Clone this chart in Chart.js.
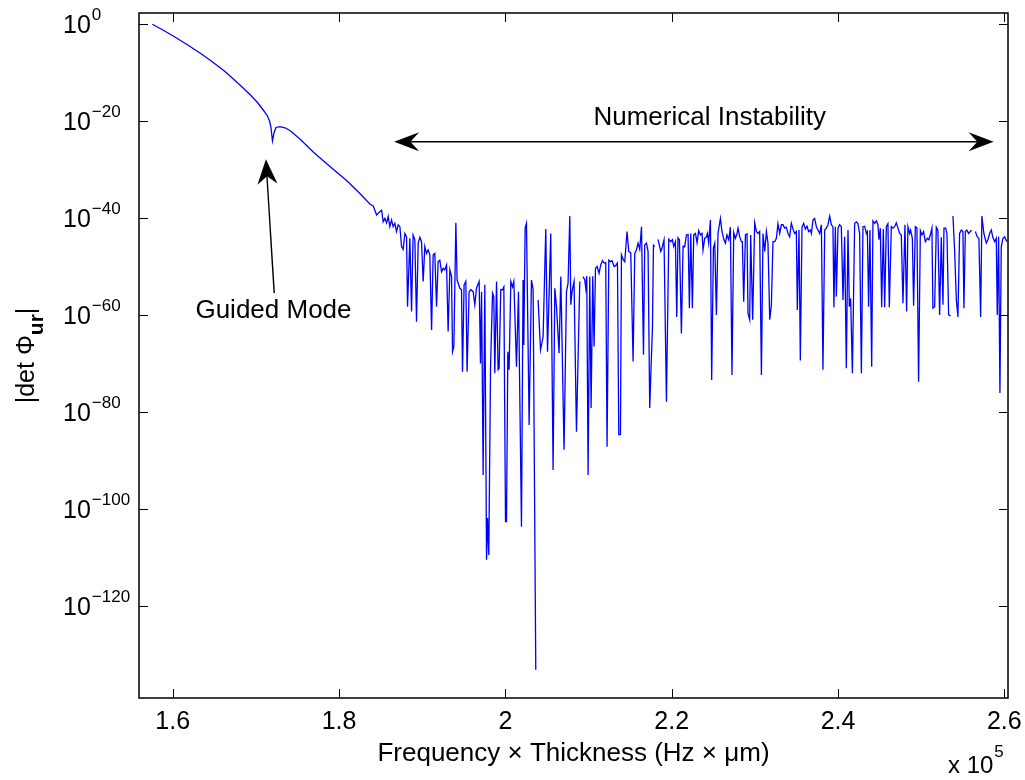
<!DOCTYPE html>
<html><head><meta charset="utf-8">
<script src="https://cdn.jsdelivr.net/npm/chart.js@4/dist/chart.umd.min.js"></script>
<style>html,body{margin:0;padding:0;background:#fff;}canvas{display:block}</style>
</head><body>
<canvas id="c" width="1025" height="780"></canvas>
<script>
// Frequency x Thickness, in units of 1e5 Hz·µm
const freqE5 = [
1.5755,1.5871,1.6007,1.6172,1.6328,1.6472,1.6629,1.6809,1.6929,1.7025,
1.7097,1.7139,1.7163,1.7181,1.7200,1.7218,1.7242,1.7290,1.7350,1.7410,
1.7530,1.7690,1.7891,1.8091,1.8251,1.8371,
1.8411,1.8452,1.8491,1.8512,1.8531,1.8551,1.8572,1.8591,1.8611,1.8632,
1.8651,1.8671,1.8692,1.8711,1.8732,1.8752,1.8771,1.8792,1.8812,1.8824,
1.8852,1.8872,1.8891,1.8912,1.8932,1.8952,1.8972,1.8992,1.9012,1.9032,
1.9052,1.9072,1.9092,1.9113,1.9132,1.9152,1.9173,1.9192,1.9212,1.9233,
1.9252,1.9272,1.9293,1.9312,1.9333,1.9353,1.9365,1.9381,1.9405,1.9420,
1.9453,1.9473,1.9485,1.9504,1.9525,1.9540,1.9564,1.9585,1.9613,1.9633,
1.9653,1.9685,1.9701,1.9714,1.9733,1.9753,1.9774,1.9786,1.9801,1.9822,
1.9846,1.9861,1.9873,1.9894,1.9913,1.9925,1.9945,1.9966,1.9982,2.0002,
2.0014,2.0030,2.0045,2.0066,2.0086,2.0102,2.0134,2.0158,2.0194,2.0213,
2.0222,2.0238,2.0254,2.0286,2.0314,2.0334,2.0366,2.0380,2.0394,2.0423,
2.0454,2.0486,2.0507,2.0546,2.0574,2.0595,2.0615,2.0646,2.0667,2.0706,
2.0735,2.0754,2.0775,2.0787,2.0802,2.0826,2.0855,2.0895,2.0915,2.0935,
2.0955,2.0967,2.0979,2.0995,2.1015,2.1031,2.1051,2.1067,2.1084,2.1103,
2.1127,2.1147,2.1168,2.1187,2.1207,2.1223,2.1244,2.1264,2.1283,2.1307,
2.1324,2.1348,2.1364,2.1384,2.1396,2.1420,2.1436,2.1463,2.1484,2.1508,
2.1536,2.1556,2.1576,2.1596,2.1616,2.1637,2.1661,2.1676,2.1697,2.1716,
2.1736,2.1769,2.1781,2.1796,2.1816,2.1836,2.1869,2.1884,2.1908,2.1937,
2.1965,2.1989,2.2009,2.2025,2.2045,2.2061,2.2076,2.2093,2.2117,2.2137,
2.2157,2.2177,2.2197,2.2213,2.2229,2.2249,2.2265,2.2286,2.2305,2.2325,
2.2346,2.2365,2.2377,2.2397,2.2418,2.2430,2.2445,2.2466,2.2481,2.2502,
2.2518,2.2538,2.2557,2.2586,2.2605,2.2629,2.2646,2.2665,2.2686,2.2706,
2.2725,2.2746,2.2766,2.2786,2.2798,2.2818,2.2838,2.2850,2.2866,2.2887,
2.2906,2.2918,2.2938,2.2950,2.2974,2.2998,2.3019,2.3038,2.3058,2.3079,
2.3098,2.3119,2.3139,2.3158,2.3179,2.3199,2.3218,2.3239,2.3259,2.3278,
2.3299,2.3319,2.3338,2.3359,2.3379,2.3399,2.3419,2.3439,2.3459,2.3479,
2.3499,2.3511,2.3531,2.3547,2.3567,2.3587,2.3608,2.3627,2.3647,2.3668,
2.3680,2.3699,2.3719,2.3740,2.3759,2.3780,2.3800,2.3819,2.3840,2.3860,
2.3879,2.3900,2.3920,2.3939,2.3951,2.3968,2.3980,2.4000,2.4020,2.4040,
2.4060,2.4080,2.4100,2.4120,2.4136,2.4152,2.4173,2.4200,2.4221,2.4240,
2.4260,2.4281,2.4300,2.4320,2.4341,2.4353,2.4368,2.4384,2.4405,2.4420,
2.4441,2.4461,2.4480,2.4492,2.4509,2.4525,2.4545,2.4561,2.4581,2.4600,
2.4617,2.4641,2.4661,2.4681,2.4701,2.4721,2.4741,2.4761,2.4781,2.4805,
2.4825,2.4841,2.4861,2.4873,2.4894,2.4909,2.4930,2.4949,2.4969,2.4990,
2.5009,2.5029,2.5050,2.5074,2.5093,2.5114,2.5129,2.5141,2.5162,2.5182,
2.5201,2.5222,2.5242,2.5262,2.5274,2.5294,2.5310,2.5330,2.5354,2.5366,
2.5382,2.5402,2.5423,2.5442,2.5462,2.5483,2.5502,2.5514,2.5531,2.5550,
2.5570,2.5591,2.5606,2.5620,2.5651,2.5675,2.5694,2.5715,2.5730,2.5754,
2.5783,2.5802,2.5823,2.5843,2.5862,2.5883,2.5903,2.5915,2.5931,2.5947,
2.5963,2.5983,2.6003,2.6031
];
// log10 |det Phi_ur| (null = no value, gap in the curve)
const log10Det = [
-0.06,-1.13,-2.47,-4.23,-5.98,-7.73,-9.79,-12.58,-14.54,-16.29,
-17.94,-18.97,-19.90,-21.24,-24.12,-22.47,-21.34,-21.18,-21.40,-21.96,
-23.71,-26.39,-29.38,-32.27,-34.95,-37.11,
-37.5,-39.4,-38.7,-38.4,-40.8,-40.1,-41.0,-39.7,-41.8,-40.4,
-41.8,-41.1,-42.8,-41.4,-41.8,-45.9,-46.5,-43.2,-43.9,-58.3,
-44.2,-59.3,-43.5,-44.5,-61.4,-45.2,-44.0,-44.9,-53.1,-45.9,
-47.3,-46.6,-47.6,-63.1,-47.6,-47.3,-58.3,-49.0,-48.7,-51.1,
-50.4,-50.7,-49.7,-63.4,-50.7,-52.1,-67.6,-66.5,-41.0,-52.8,
-54.5,-54.8,-71.7,-53.8,-53.1,-71.7,-55.2,-54.8,-55.2,-57.9,
-54.5,-53.1,-70.0,-55.2,-93.0,-53.8,-110.5,-101.9,-109.5,-70.7,
-55.5,-56.2,-72.0,-53.1,-71.3,-71.0,-54.8,-54.8,-54.2,-102.6,
-102.6,-67.6,-71.3,-53.1,-54.2,-53.1,-70.7,-55.2,-103.7,-52.8,
-66.2,-42.1,-41.1,-82.7,-52.8,-54.8,-133.2,null,-56.9,-67.2,
-64.5,-42.3,-67.6,-43.2,-92.0,-54.5,-58.3,-67.9,-52.1,-87.8,
-55.2,-53.5,-39.6,-57.9,-55.2,-53.1,-84.1,-53.1,null,-52.1,
-52.8,-54.5,-52.0,-93.0,-52.1,-79.2,-52.0,-66.5,-50.4,-50.0,
-51.4,-49.7,-48.8,-49.3,-49.2,-87.2,-48.7,-49.0,-48.8,-50.0,
-49.9,-49.3,-84.7,-84.7,-47.6,-48.7,-49.0,-42.8,-46.9,-47.2,
-69.6,-47.3,-46.6,-45.2,-46.5,-41.8,-68.2,-45.6,-45.2,-46.9,
-79.2,-62.4,-45.6,-45.9,null,-44.4,-46.9,-46.2,-44.5,-77.9,
-44.4,-44.9,-44.5,-45.9,-44.9,-60.4,-44.1,-44.5,-63.8,-45.8,
-45.9,-43.5,-43.4,-58.6,-43.2,-58.6,-43.5,-43.2,-45.1,-42.6,
-43.5,-43.2,-46.6,-44.2,-43.9,-43.2,-45.2,-40.4,-73.4,-46.2,
-45.2,-60.0,-43.2,-40.1,-42.8,-44.5,-45.2,-43.5,-44.5,-41.9,
-72.4,-43.0,-44.2,-43.2,-42.1,-43.9,-44.9,-44.9,-57.3,-43.5,
-43.3,-59.7,-61.0,-43.5,-61.0,-41.0,-42.8,-43.2,-42.8,-72.4,
-43.2,-46.9,-42.8,-45.2,-61.0,-57.9,-44.9,-44.9,-44.2,-41.2,
-43.2,-41.4,-41.4,-42.1,-41.9,-43.2,-43.9,-41.1,-42.3,-43.2,
-42.8,-59.0,-42.5,-69.4,-41.9,-41.1,-42.3,-41.7,-42.8,-42.5,
-43.2,-40.4,-40.1,-41.8,-42.5,-43.2,-41.4,-71.3,-42.5,-42.1,
-41.4,-39.6,-41.4,-41.8,-58.4,-41.8,-56.2,-42.1,-41.4,-41.8,
-56.9,-43.9,-71.0,-42.5,-58.3,-56.6,-72.0,-41.1,-40.8,-41.2,
-43.2,-72.0,-41.8,-41.7,-43.2,-42.8,-58.3,-42.5,-70.7,-40.6,
-41.1,-40.6,-41.4,-44.5,-42.1,-58.4,-42.3,-58.4,-41.8,-41.2,
-58.4,-41.8,-42.1,-41.8,-41.0,-42.1,-43.2,-43.5,-57.6,-41.4,
-59.3,-41.8,-43.2,-42.5,-44.2,-58.1,-41.8,-42.1,-73.8,-42.6,
-43.5,-42.8,-44.9,-44.2,-44.5,-43.2,-42.1,-58.6,-58.3,-41.9,
-42.5,-60.0,-44.0,-57.9,-42.1,-42.1,-43.2,-60.0,-60.2,null,
-39.6,-46.6,-56.9,-60.4,-43.2,-42.5,-42.8,-58.6,-42.8,-42.5,
-43.2,-42.8,-42.5,null,-42.8,-43.9,-44.2,-60.4,-39.6,-43.2,
-45.2,-44.5,-43.2,-42.5,-44.0,-44.9,-44.2,-60.0,-43.9,-76.1,
-45.9,-44.2,-43.9,-44.9
];
const xTickValues = [1.6, 1.8, 2.0, 2.2, 2.4, 2.6];
const yTickExponents = [0, -20, -40, -60, -80, -100, -120];
const xTitle = 'Frequency \u00d7 Thickness (Hz \u00d7 \u03bcm)';
const yTitleMain = '|det \u03a6';
const yTitleSub = 'ur';
const yTitleEnd = '|';
const xMultiplierBase = 'x 10';
const xMultiplierExp = '5';
// annotations (data units: x in 1e5, y as log10)
const instabilityLabel = {text: 'Numerical Instability', x: 2.2458, e: -20.82};
const instabilityArrow = {x1: 1.8663, x2: 2.5871, e: -24.27};
const guidedLabel = {text: 'Guided Mode', x: 1.7212, e: -60.6};
const guidedArrow = {tipX: 1.7121, tipE: -27.9, tailX: 1.7221, tailE: -55.5};

const FONT = "'Liberation Sans', Arial, Helvetica, sans-serif";
Chart.defaults.font.family = FONT;
Chart.defaults.color = '#000';

const points = [];
const n = Math.min(freqE5.length, log10Det.length);
for (let i = 0; i < n; i++) {
  points.push({x: freqE5[i], y: log10Det[i] === null ? null : Math.pow(10, log10Det[i])});
}

function arrowHead(ctx, tx, ty, fx, fy, L, W, notch) {
  const dx = tx - fx, dy = ty - fy, len = Math.hypot(dx, dy);
  const ux = dx / len, uy = dy / len, nx = -uy, ny = ux;
  ctx.beginPath();
  ctx.moveTo(tx, ty);
  ctx.lineTo(tx - L * ux + W * nx, ty - L * uy + W * ny);
  ctx.lineTo(tx - notch * L * ux, ty - notch * L * uy);
  ctx.lineTo(tx - L * ux - W * nx, ty - L * uy - W * ny);
  ctx.closePath();
  ctx.fill();
}

const decor = {
  id: 'decor',
  afterDraw(chart) {
    const ctx = chart.ctx, a = chart.chartArea;
    const xs = chart.scales.x, ys = chart.scales.y;
    ctx.save();
    ctx.strokeStyle = '#000'; ctx.fillStyle = '#000';
    // box
    ctx.lineWidth = 1.5;
    ctx.strokeRect(a.left, a.top, a.right - a.left, a.bottom - a.top);
    // inward ticks
    ctx.lineWidth = 1;
    const TL = 9;
    ctx.beginPath();
    xs.ticks.forEach(t => {
      const px = Math.round(xs.getPixelForValue(t.value)) + 0.5;
      ctx.moveTo(px, a.bottom); ctx.lineTo(px, a.bottom - TL);
      ctx.moveTo(px, a.top); ctx.lineTo(px, a.top + TL);
    });
    ys.ticks.forEach(t => {
      const py = Math.round(ys.getPixelForValue(t.value)) + 0.5;
      ctx.moveTo(a.left, py); ctx.lineTo(a.left + TL, py);
      ctx.moveTo(a.right, py); ctx.lineTo(a.right - TL, py);
    });
    ctx.stroke();
    // y tick labels with superscript exponent
    ctx.textBaseline = 'alphabetic';
    ctx.textAlign = 'left';
    ys.ticks.forEach(t => {
      const py = ys.getPixelForValue(t.value);
      const e = Math.round(Math.log10(t.value));
      const bx = a.left - 76;
      ctx.font = '25px ' + FONT;
      ctx.fillText('10', bx, py + 9);
      const w = ctx.measureText('10').width;
      ctx.font = '17px ' + FONT;
      ctx.fillText(e === 0 ? '0' : '\u2212' + Math.abs(e), bx + w + 1, py - 4);
    });
    // y title, rotated
    ctx.save();
    const cy = (a.top + a.bottom) / 2;
    ctx.translate(34, cy);
    ctx.rotate(-Math.PI / 2);
    ctx.font = '25px ' + FONT;
    const w1 = ctx.measureText(yTitleMain).width;
    const w3 = ctx.measureText(yTitleEnd).width;
    ctx.font = 'bold 21px ' + FONT;
    const w2 = ctx.measureText(yTitleSub).width;
    let sx = -(w1 + w2 + w3) / 2;
    ctx.font = '25px ' + FONT;
    ctx.fillText(yTitleMain, sx, 0);
    ctx.font = 'bold 21px ' + FONT;
    ctx.fillText(yTitleSub, sx + w1, 9);
    ctx.font = '25px ' + FONT;
    ctx.fillText(yTitleEnd, sx + w1 + w2, 0);
    ctx.restore();
    // x multiplier
    ctx.font = '24px ' + FONT;
    const mx = a.right - 60;
    ctx.fillText(xMultiplierBase, mx, 773);
    const mw = ctx.measureText(xMultiplierBase).width;
    ctx.font = '17px ' + FONT;
    ctx.fillText(xMultiplierExp, mx + mw + 1, 757);
    // annotations
    const P = (x, e) => [xs.getPixelForValue(x), ys.getPixelForValue(Math.pow(10, e))];
    ctx.font = '26px ' + FONT;
    ctx.textAlign = 'center';
    let p = P(instabilityLabel.x, instabilityLabel.e);
    ctx.fillText(instabilityLabel.text, p[0], p[1]);
    p = P(guidedLabel.x, guidedLabel.e);
    ctx.fillText(guidedLabel.text, p[0], p[1]);
    ctx.lineWidth = 1.4;
    const l = P(instabilityArrow.x1, instabilityArrow.e), r = P(instabilityArrow.x2, instabilityArrow.e);
    ctx.beginPath(); ctx.moveTo(l[0] + 10, l[1]); ctx.lineTo(r[0] - 10, r[1]); ctx.stroke();
    arrowHead(ctx, l[0], l[1], r[0], r[1], 25, 9.5, 0.65);
    arrowHead(ctx, r[0], r[1], l[0], l[1], 25, 9.5, 0.65);
    const tip = P(guidedArrow.tipX, guidedArrow.tipE), tail = P(guidedArrow.tailX, guidedArrow.tailE);
    ctx.beginPath(); ctx.moveTo(tail[0], tail[1]);
    const gl = Math.hypot(tip[0] - tail[0], tip[1] - tail[1]);
    ctx.lineTo(tip[0] - (tip[0] - tail[0]) * 12 / gl, tip[1] - (tip[1] - tail[1]) * 12 / gl);
    ctx.stroke();
    arrowHead(ctx, tip[0], tip[1], tail[0], tail[1], 25, 10, 0.68);
    ctx.restore();
  }
};

new Chart(document.getElementById('c'), {
  type: 'line',
  data: {
    datasets: [{
      data: points,
      borderColor: '#0000ff',
      borderWidth: 1.3,
      pointRadius: 0,
      tension: 0,
      fill: false,
      spanGaps: false
    }]
  },
  options: {
    responsive: false,
    animation: false,
    devicePixelRatio: 1,
    layout: {padding: {left: 0, top: 13, right: 17, bottom: 0}},
    plugins: {legend: {display: false}, tooltip: {enabled: false}},
    scales: {
      x: {
        type: 'linear',
        position: 'bottom',
        min: 1.5595,
        max: 2.6044,
        grid: {display: false, drawTicks: false},
        border: {display: false},
        ticks: {
          font: {size: 25},
          color: '#000',
          padding: 9,
          maxRotation: 0,
          autoSkip: false,
          callback: v => String(Number(Number(v).toFixed(1)))
        },
        afterBuildTicks: s => { s.ticks = xTickValues.map(v => ({value: v})); },
        afterFit: s => { s.height = 82; s.paddingLeft = 0; s.paddingRight = 0; },
        title: {display: true, text: xTitle, font: {size: 26}, color: '#000', padding: {top: 0, bottom: 11}}
      },
      y: {
        type: 'logarithmic',
        min: 1e-139,
        max: Math.pow(10, 2.27),
        grid: {display: false, drawTicks: false},
        border: {display: false},
        ticks: {display: false},
        afterBuildTicks: s => { s.ticks = yTickExponents.map(e => ({value: Math.pow(10, e)})); },
        afterFit: s => { s.width = 139; s.paddingTop = 0; s.paddingBottom = 0; }
      }
    }
  },
  plugins: [decor]
});
</script>
</body></html>
